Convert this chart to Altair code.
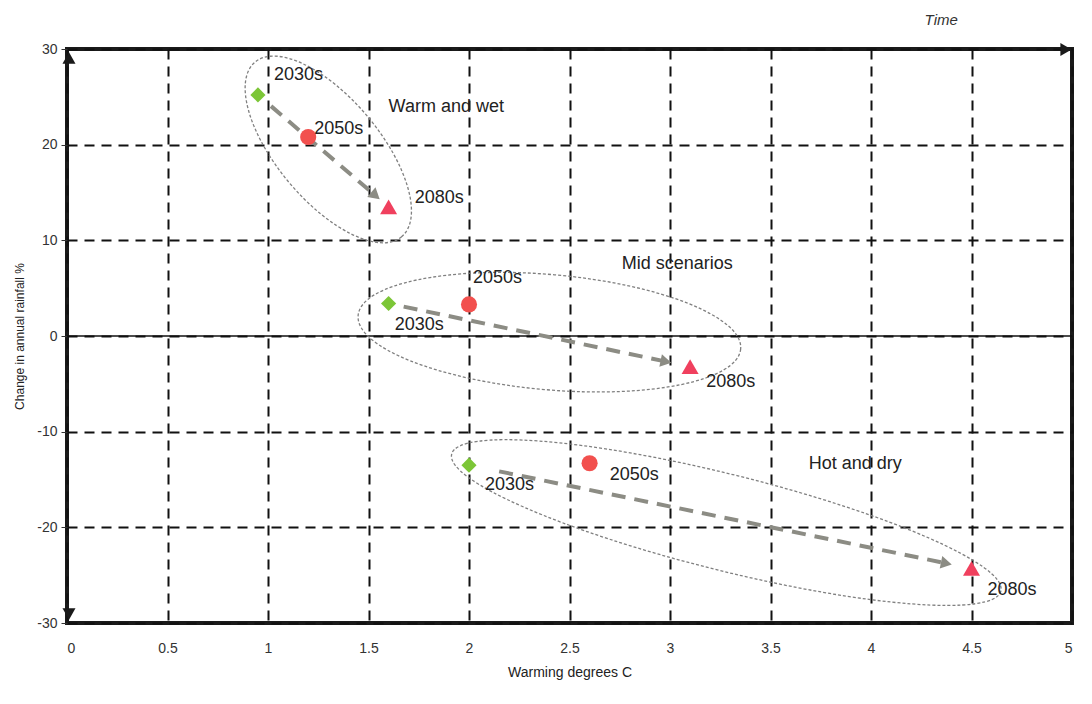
import math
import altair as alt
import pandas as pd

# ---- data ----
scenario = ["Warm and wet"] * 3 + ["Mid scenarios"] * 3 + ["Hot and dry"] * 3
period = ["2030s", "2050s", "2080s"] * 3
warming = [0.95, 1.2, 1.6, 1.6, 2.0, 3.1, 2.0, 2.6, 4.5]
rainfall = [25.2, 20.8, 13.5, 3.4, 3.3, -3.2, -13.5, -13.3, -24.3]

# annotation anchors (data units)
label_x = [1.03, 1.23, 1.73, 1.63, 2.02, 3.18, 2.08, 2.70, 4.58]
label_y = [27.3, 21.6, 14.4, 1.2, 6.1, -4.8, -15.6, -14.5, -26.5]

group_names = ["Warm and wet", "Mid scenarios", "Hot and dry"]
group_label_x = [1.60, 2.76, 3.69]
group_label_y = [23.9, 7.5, -13.4]
ellipse_cx = [1.30, 2.40, 3.28]
ellipse_cy = [19.5, 0.4, -19.5]

x_ticks = [0, 0.5, 1, 1.5, 2, 2.5, 3, 3.5, 4, 4.5, 5]
y_ticks = [-30, -20, -10, 0, 10, 20, 30]

# ---- layout / style ----
W, H = 1005, 574
X_DOM, Y_DOM = [0, 5], [-30, 30]
PX_X = W / (X_DOM[1] - X_DOM[0])
PX_Y = H / (Y_DOM[1] - Y_DOM[0])
FONT = "Liberation Sans"

ellipse_semi_major = [114, 192, 283]
ellipse_ratio = [0.45, 0.30, 0.17]
ellipse_angle = [50, 5, 14]

xs = alt.Scale(domain=X_DOM, nice=False, zero=False)
ys = alt.Scale(domain=Y_DOM, nice=False, zero=False)

pts = pd.DataFrame({"scenario": scenario, "period": period, "x": warming,
                    "y": rainfall, "lx": label_x, "ly": label_y})

x_enc = alt.X("x:Q", scale=xs, title="Warming degrees C",
              axis=alt.Axis(values=x_ticks, format="~g", ticks=False,
                            labelPadding=18, titlePadding=10, domain=False,
                            grid=True))
y_enc = alt.Y("y:Q", scale=ys, title="Change in annual rainfall  %",
              axis=alt.Axis(values=y_ticks, tickSize=6, labelPadding=4,
                            labelExpr="'' + datum.value",
                            titlePadding=10, domain=False, grid=True))

# base invisible layer that carries the axes and grid
base = alt.Chart(pts).mark_point(opacity=0).encode(x=x_enc, y=y_enc)

zero = alt.Chart(pd.DataFrame({"y": [0]})).mark_rule(
    color="#111", strokeWidth=1.6).encode(y=alt.Y("y:Q", scale=ys))

# ellipses as custom symbol paths
k = 0.5523
layers_ell = []
for cx, cy, a, r, ang in zip(ellipse_cx, ellipse_cy, ellipse_semi_major,
                             ellipse_ratio, ellipse_angle):
    kr = k * r
    path = (f"M 1 0 C 1 {kr:.4f} {k} {r} 0 {r} "
            f"C {-k} {r} -1 {kr:.4f} -1 0 "
            f"C -1 {-kr:.4f} {-k} {-r} 0 {-r} "
            f"C {k} {-r} 1 {-kr:.4f} 1 0 Z")
    e = alt.Chart(pd.DataFrame({"x": [cx], "y": [cy]})).mark_point(
        shape=path, size=(2 * a) ** 2, angle=ang, filled=False,
        stroke="#808080", strokeWidth=1.3, strokeDash=[3, 2], opacity=1
    ).encode(x=alt.X("x:Q", scale=xs), y=alt.Y("y:Q", scale=ys))
    layers_ell.append(e)

# trend arrows from first to last period of each group
fracs = {"Warm and wet": (0.10, 0.90), "Mid scenarios": (0.05, 0.92),
         "Hot and dry": (0.06, 0.95)}
arrow_rows, head_rows = [], []
for g in group_names:
    sub = pts[pts.scenario == g]
    x0, y0 = sub.x.iloc[0], sub.y.iloc[0]
    x1, y1 = sub.x.iloc[-1], sub.y.iloc[-1]
    f0, f1 = fracs[g]
    sx, sy = x0 + f0 * (x1 - x0), y0 + f0 * (y1 - y0)
    ex, ey = x0 + f1 * (x1 - x0), y0 + f1 * (y1 - y0)
    arrow_rows += [{"g": g, "o": 0, "x": sx, "y": sy},
                   {"g": g, "o": 1, "x": ex, "y": ey}]
    ang = math.degrees(math.atan2(-(ey - sy) * PX_Y, (ex - sx) * PX_X))
    head_rows.append({"x": ex, "y": ey, "ang": ang})

arrows = alt.Chart(pd.DataFrame(arrow_rows)).mark_line(
    color="#8c8c84", strokeWidth=4, strokeDash=[14, 9]
).encode(x=alt.X("x:Q", scale=xs), y=alt.Y("y:Q", scale=ys),
         detail="g:N", order="o:Q")
heads = alt.Chart(pd.DataFrame(head_rows)).mark_point(
    shape="triangle-right", filled=True, color="#8c8c84", size=160, opacity=1
).encode(x=alt.X("x:Q", scale=xs), y=alt.Y("y:Q", scale=ys),
         angle=alt.Angle("ang:Q", scale=None))

markers = alt.Chart(pts).mark_point(filled=True, opacity=1).encode(
    x=alt.X("x:Q", scale=xs), y=alt.Y("y:Q", scale=ys),
    shape=alt.Shape("period:N", legend=None,
                    scale=alt.Scale(domain=["2030s", "2050s", "2080s"],
                                    range=["diamond", "circle", "triangle-up"])),
    color=alt.Color("period:N", legend=None,
                    scale=alt.Scale(domain=["2030s", "2050s", "2080s"],
                                    range=["#7cc637", "#f2504e", "#f0405e"])),
    size=alt.Size("period:N", legend=None,
                  scale=alt.Scale(domain=["2030s", "2050s", "2080s"],
                                  range=[230, 290, 300])),
)

labels = alt.Chart(pts).mark_text(
    align="left", baseline="middle", fontSize=18, font=FONT, color="#222"
).encode(x=alt.X("lx:Q", scale=xs), y=alt.Y("ly:Q", scale=ys), text="period:N")

glab = alt.Chart(pd.DataFrame({"t": group_names, "x": group_label_x,
                               "y": group_label_y})).mark_text(
    align="left", baseline="middle", fontSize=18, font=FONT, color="#222"
).encode(x=alt.X("x:Q", scale=xs), y=alt.Y("y:Q", scale=ys), text="t:N")

# frame arrowheads (derived from the domain)
frame_heads = pd.DataFrame({
    "x": [X_DOM[0] + 2 / PX_X, X_DOM[0] + 2 / PX_X, X_DOM[1] - 6 / PX_X],
    "y": [Y_DOM[1] - 9 / PX_Y, Y_DOM[0] + 9 / PX_Y, Y_DOM[1] - 0.5 / PX_Y],
    "s": ["triangle-up", "triangle-down", "triangle-right"],
})
fheads = alt.Chart(frame_heads).mark_point(
    filled=True, color="#1a1a1a", size=170, opacity=1
).encode(x=alt.X("x:Q", scale=xs), y=alt.Y("y:Q", scale=ys),
         shape=alt.Shape("s:N", scale=None, legend=None))

chart = alt.layer(base, zero, *layers_ell, arrows, heads, markers, labels,
                  glab, fheads).properties(
    width=W, height=H,
    title=alt.TitleParams("Time", anchor="end", dx=-115, offset=14,
                          fontSize=15, fontStyle="italic", fontWeight="normal",
                          font=FONT, color="#333"),
    background="white",
).configure_view(stroke="#1a1a1a", strokeWidth=4).configure_axis(
    gridColor="#111", gridDash=[10, 7], gridWidth=2, gridOpacity=1,
    labelFont=FONT, labelFontSize=14, labelColor="#333",
    titleFont=FONT, titleFontSize=14, titleFontWeight="normal",
    titleColor="#222", tickColor="#333",
).configure_axisY(titleFontSize=12)

chart.save("out.html", embed_options={"renderer": "svg", "actions": False})
